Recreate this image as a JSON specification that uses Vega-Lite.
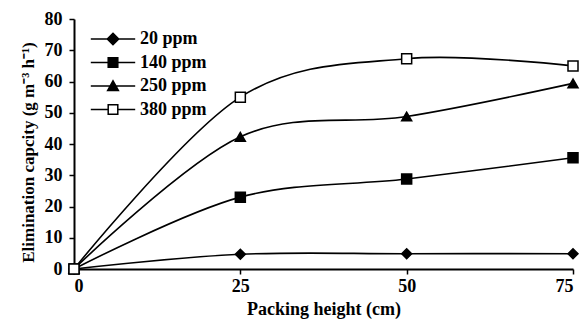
{
  "$schema": "https://vega.github.io/schema/vega-lite/v6.json",
  "width": 499,
  "height": 250,
  "autosize": "none",
  "padding": {"left": 74, "top": 19, "right": 11, "bottom": 53},
  "background": "white",
  "config": {
    "view": {"stroke": null},
    "font": "Liberation Serif",
    "axis": {
      "grid": false,
      "domainColor": "black",
      "domainWidth": 2,
      "tickColor": "black",
      "tickWidth": 1.5,
      "tickSize": 5,
      "labelFont": "Liberation Serif",
      "labelFontWeight": "bold",
      "labelFontSize": 18,
      "labelColor": "black",
      "titleFont": "Liberation Serif",
      "titleFontWeight": "bold",
      "titleFontSize": 17,
      "titleColor": "black"
    }
  },
  "data": {
    "values": [
      {"series": "20 ppm", "height": 0, "capacity": 0},
      {"series": "20 ppm", "height": 25, "capacity": 4.7},
      {"series": "20 ppm", "height": 50, "capacity": 4.9},
      {"series": "20 ppm", "height": 75, "capacity": 4.9},
      {"series": "140 ppm", "height": 0, "capacity": 0},
      {"series": "140 ppm", "height": 25, "capacity": 23},
      {"series": "140 ppm", "height": 50, "capacity": 28.8},
      {"series": "140 ppm", "height": 75, "capacity": 35.6},
      {"series": "250 ppm", "height": 0, "capacity": 0},
      {"series": "250 ppm", "height": 25, "capacity": 42.3},
      {"series": "250 ppm", "height": 50, "capacity": 48.8},
      {"series": "250 ppm", "height": 75, "capacity": 59.4},
      {"series": "380 ppm", "height": 0, "capacity": 0},
      {"series": "380 ppm", "height": 25, "capacity": 55},
      {"series": "380 ppm", "height": 50, "capacity": 67.3},
      {"series": "380 ppm", "height": 75, "capacity": 65}
    ]
  },
  "encoding": {
    "x": {
      "field": "height",
      "type": "quantitative",
      "scale": {"domain": [0, 75], "nice": false, "zero": false},
      "axis": {"values": [0, 25, 50, 75], "title": "Packing height (cm)", "titleFontSize": 18, "labelPadding": 3, "titlePadding": 5}
    },
    "y": {
      "field": "capacity",
      "type": "quantitative",
      "scale": {"domain": [0, 80], "nice": false},
      "axis": {"values": [0, 10, 20, 30, 40, 50, 60, 70, 80], "title": "Elimination capcity (g m⁻³ h⁻¹)", "labelPadding": 7, "titlePadding": 7, "titleY": 133}
    }
  },
  "layer": [
    {
      "mark": {"type": "line", "interpolate": "cardinal", "color": "black", "strokeWidth": 1.6},
      "encoding": {"detail": {"field": "series"}}
    },
    {
      "mark": {"type": "point", "stroke": "black", "strokeWidth": 1.5, "size": 100, "opacity": 1, "fillOpacity": 1},
      "encoding": {
        "shape": {
          "field": "series",
          "scale": {"domain": ["20 ppm", "140 ppm", "250 ppm", "380 ppm"], "range": ["diamond", "square", "triangle-up", "square"]},
          "legend": null
        },
        "fill": {
          "field": "series",
          "scale": {"domain": ["20 ppm", "140 ppm", "250 ppm", "380 ppm"], "range": ["black", "black", "black", "white"]},
          "legend": null
        }
      }
    },
    {
      "mark": {"type": "point", "stroke": "black", "strokeWidth": 1.5, "size": 144, "opacity": 0},
      "encoding": {
        "shape": {
          "field": "series",
          "scale": {
            "domain": ["20 ppm", "140 ppm", "250 ppm", "380 ppm"],
            "range": [
              "M-3.7,0H3.7M0,-0.95L0.95,0L0,0.95L-0.95,0Z",
              "M-3.7,0H3.7M-0.8,-0.8H0.8V0.8H-0.8Z",
              "M-3.7,0H3.7M-0.9,0.75L0,-0.85L0.9,0.75Z",
              "M-3.7,0H-0.8M0.8,0H3.7M-0.8,-0.8H0.8V0.8H-0.8Z"
            ]
          },
          "legend": {
            "title": null,
            "orient": "none",
            "legendX": 30,
            "legendY": 11,
            "symbolOpacity": 1,
            "symbolSize": 144,
            "symbolStrokeWidth": 1.5,
            "symbolStrokeColor": "black",
            "labelFont": "Liberation Serif",
            "labelFontWeight": "bold",
            "labelFontSize": 18,
            "labelColor": "black",
            "labelOffset": 18,
            "rowPadding": 5.5,
            "padding": 0,
            "encode": {"symbols": {"update": {"stroke": {"value": "black"}, "strokeWidth": {"value": 1.5}, "opacity": {"value": 1}, "strokeOpacity": {"value": 1}}}}
          }
        },
        "fill": {
          "field": "series",
          "scale": {"domain": ["20 ppm", "140 ppm", "250 ppm", "380 ppm"], "range": ["black", "black", "black", "white"]},
          "legend": {
            "title": null,
            "orient": "none",
            "legendX": 30,
            "legendY": 11,
            "symbolOpacity": 1,
            "symbolSize": 144,
            "symbolStrokeWidth": 1.5,
            "symbolStrokeColor": "black",
            "labelFont": "Liberation Serif",
            "labelFontWeight": "bold",
            "labelFontSize": 18,
            "labelColor": "black",
            "labelOffset": 18,
            "rowPadding": 5.5,
            "padding": 0,
            "encode": {"symbols": {"update": {"stroke": {"value": "black"}, "strokeWidth": {"value": 1.5}, "opacity": {"value": 1}, "strokeOpacity": {"value": 1}}}}
          }
        }
      }
    }
  ],
  "resolve": {"scale": {"shape": "independent", "fill": "independent"}}
}
